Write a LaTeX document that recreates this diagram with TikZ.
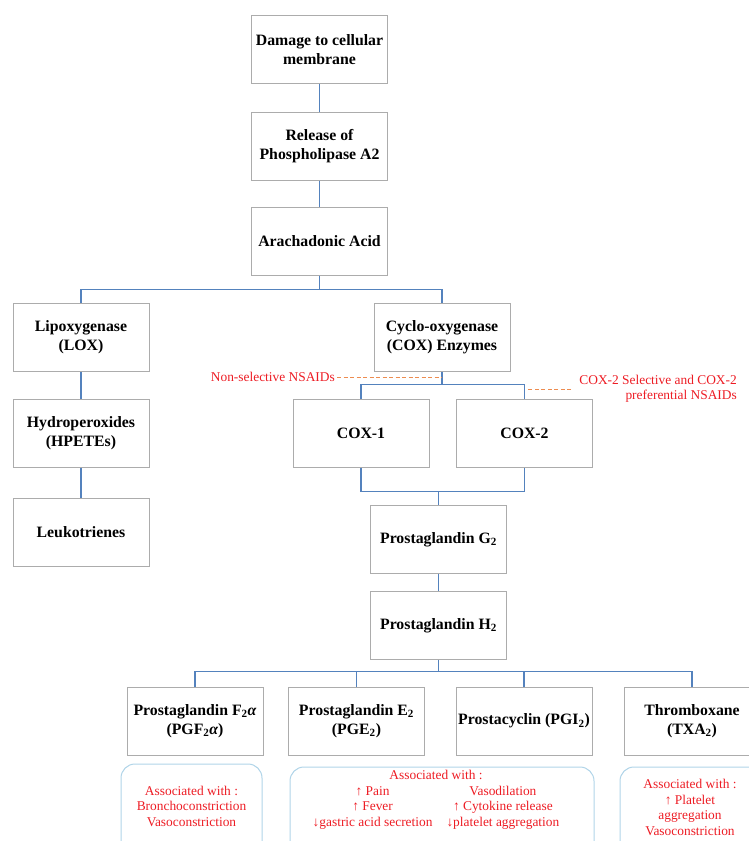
\documentclass[tikz,border=0pt]{standalone}
\usepackage{fontspec}
\setmainfont{Liberation Serif}
\usepackage{tikz}

\definecolor{boxgray}{RGB}{172,172,172}
\definecolor{linkblue}{RGB}{84,130,189}
\definecolor{nsaidred}{RGB}{237,28,36}
\definecolor{dashorange}{RGB}{237,140,80}
\definecolor{effectblue}{RGB}{176,212,232}

\begin{document}
\begin{tikzpicture}[x=1pt,y=-1pt,
  stage/.style={draw=boxgray, line width=1pt, minimum width=136pt, minimum height=68pt,
    align=center, inner sep=2pt, font=\fontsize{15.8}{18.8}\selectfont\bfseries},
  link/.style={draw=linkblue, line width=1.3pt},
  nsaid/.style={text=nsaidred, inner sep=2pt, font=\fontsize{13.4}{15.5}\selectfont},
  nsaidline/.style={draw=dashorange, line width=1pt, dash pattern=on 4pt off 2.5pt},
  effectbox/.style={draw=effectblue, line width=1pt, rounded corners=14pt}]
\useasboundingbox (0,0) rectangle (749,841);

\node[stage] (dmg) at (319.5,49.5) {Damage to cellular\\membrane};
\node[stage] (rel) at (319.5,146) {Release of\\Phospholipase A2};
\node[stage] (ara) at (319.5,241) {Arachadonic Acid};
\node[stage] (lox) at (81,337.5) {Lipoxygenase\\(LOX)};
\node[stage] (hpete) at (81,433) {Hydroperoxides\\(HPETEs)};
\node[stage] (leuko) at (81,532) {Leukotrienes};
\node[stage] (cox) at (442,337.5) {Cyclo-oxygenase\\(COX) Enzymes};
\node[stage] (cox1) at (361,433) {COX-1};
\node[stage] (cox2) at (524.5,433) {COX-2};
\node[stage] (pgg) at (438.5,539.5) {Prostaglandin G\textsubscript{2}};
\node[stage] (pgh) at (438.5,625.5) {Prostaglandin H\textsubscript{2}};
\node[stage] (pgf) at (195,721) {Prostaglandin F\textsubscript{2}{\itshape α}\\(PGF\textsubscript{2}{\itshape α})};
\node[stage] (pge) at (356.5,721) {Prostaglandin E\textsubscript{2}\\(PGE\textsubscript{2})};
\node[stage] (pgi) at (524,721) {Prostacyclin (PGI\textsubscript{2})};
\node[stage] (txa) at (692,721) {Thromboxane\\(TXA\textsubscript{2})};

\draw[link] (dmg) -- (rel);
\draw[link] (rel) -- (ara);
\draw[link] (ara.south) -- ++(0,14) -| (lox.north);
\draw[link] (ara.south) -- ++(0,14) -| (cox.north);
\draw[link] (lox) -- (hpete);
\draw[link] (hpete) -- (leuko);
\draw[link] (cox.south) -- ++(0,12.5) coordinate (coxsplit) -| (cox1.north);
\draw[link] (coxsplit) -| (cox2.north);
\draw[link] (cox1.south) -- ++(0,24) coordinate (coxjoin) -| (cox2.south);
\draw[link] (pgg.north) -- (pgg.north |- coxjoin);
\draw[link] (pgg) -- (pgh);
\draw[link] (pgh.south) -- ++(0,11.5) coordinate (pgsplit);
\foreach \n in {pgf,pge,pgi,txa}
  \draw[link] (pgsplit) -| (\n.north);

\node[nsaid, anchor=east] (nonsel) at (337,377) {Non-selective NSAIDs};
\draw[nsaidline] (nonsel.east) -- (nonsel.east -| cox.south);
\node[nsaid, anchor=east, align=right] (coxsel) at (739,389) {COX-2 Selective and COX-2\\preferential NSAIDs};
\draw[nsaidline] ([xshift=-6pt]coxsel.west) -- ([xshift=3pt]coxsel.west -| cox2.north);

\draw[effectbox] (121,764) rectangle (262,880);
\draw[effectbox] (290,767) rectangle (594,880);
\draw[effectbox] (620,767) rectangle (790,880);
\node[nsaid, align=center] (pgfeff) at (191.5,806) {Associated with :\\Bronchoconstriction\\Vasoconstriction};
\node[nsaid] (pgeeff) at (436,800) {\setlength{\tabcolsep}{7pt}\begin{tabular}{cc}
  \multicolumn{2}{c}{Associated with :}\\
  ↑ Pain & Vasodilation\\
  ↑ Fever & ↑ Cytokine release\\
  ↓gastric acid secretion & ↓platelet aggregation
  \end{tabular}};
\node[nsaid, align=center] (txaeff) at (690,807.5) {Associated with :\\↑ Platelet\\aggregation\\Vasoconstriction};
\end{tikzpicture}
\end{document}
